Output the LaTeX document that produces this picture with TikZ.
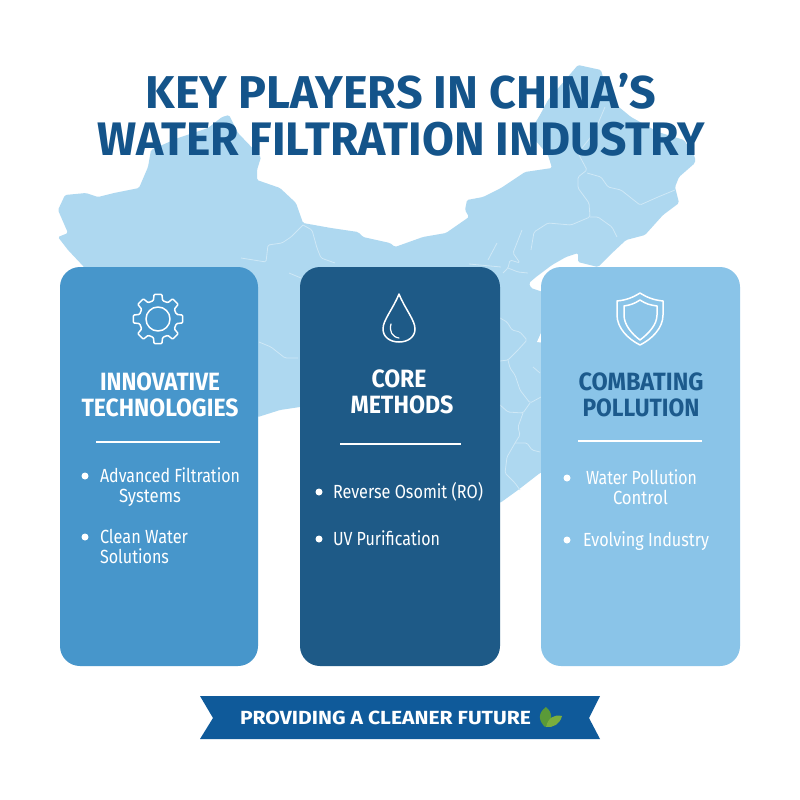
\documentclass[tikz,border=0pt]{standalone}
\usepackage{fontspec}
\usepackage{graphicx}
\setmainfont{Fira Sans}
\definecolor{mapblue}{HTML}{AED8F0}
\definecolor{mapline}{HTML}{CFE8F6}
\definecolor{cardA}{HTML}{4796CB}
\definecolor{cardB}{HTML}{1E5A87}
\definecolor{cardC}{HTML}{8AC4E8}
\definecolor{titleblue}{HTML}{14548A}
\definecolor{headC}{HTML}{1C5A8C}
\definecolor{ribbon}{HTML}{0F5A9A}
\definecolor{leafA}{HTML}{7AAE3E}
\definecolor{leafB}{HTML}{5A9A38}
\newcommand{\fitw}[3]{\resizebox{#1pt}{\height}{\fontsize{#2pt}{#2pt}\selectfont #3}}
\tikzset{
  card/.style={rounded corners=20pt},
  border/.style={draw=mapline,line width=0.8pt,line join=round,rounded corners=1.5pt,fill=none},
  txt/.style={inner sep=0pt,outer sep=0pt,text=white},
  head/.style={txt,font=\fontseries{sb}\selectfont},
  rulew/.style={draw=white,line width=2pt},
  dot/.style={fill=white},
  icon/.style={draw=white,line width=1.5pt,line join=round,fill=none}
}
\begin{document}
\begin{tikzpicture}[x=1pt,y=-1pt]
\useasboundingbox (0,0) rectangle (800,800);
\fill[white] (0,0) rectangle (800,800);
% map
\fill[mapblue,rounded corners=1.5pt] (578,65) -- (601,70) -- (606,88) -- (614,103) -- (631,117) -- (658,132) -- (684,140) -- (695,157) -- (695,163) -- (679,177) -- (675,187) -- (679,203) -- (663,215) -- (645,235) -- (626,240) -- (610,255) -- (598,267) -- (578,262) -- (578,253) -- (566,257) -- (552,265) -- (536,277) -- (529,283) -- (531,288) -- (543,292) -- (620,320) -- (620,440) -- (540,473) -- (518,490) -- (500,503) -- (420,500) -- (330,400) -- (300,407) -- (280,410) -- (258,417) -- (200,400) -- (120,320) -- (84,267) -- (68,250) -- (58,237) -- (68,233) -- (58,210) -- (65,195) -- (86,193) -- (98,197) -- (114,193) -- (139,188) -- (148,167) -- (151,150) -- (178,138) -- (208,128) -- (222,117) -- (229,115) -- (238,133) -- (261,157) -- (257,170) -- (257,180) -- (280,188) -- (296,203) -- (303,223) -- (331,228) -- (358,232) -- (363,237) -- (390,243) -- (395,247) -- (423,237) -- (446,233) -- (469,217) -- (465,210) -- (467,200) -- (483,197) -- (501,188) -- (525,172) -- (552,168) -- (548,155) -- (529,133) -- (540,115) -- (548,100) -- cycle;
\fill[white] (537,342) -- (541,333) -- (546,336) -- (545,343) -- cycle;
% province borders
\draw[border] (303,225) -- (291,237) -- (282,243) -- (268,245) -- (266,262) -- (241,258);
\draw[border] (303,225) -- (312,230) -- (317,248) -- (321,258) -- (335,263);
\draw[border] (605,107) -- (594,133) -- (578,153) -- (587,170) -- (578,177) -- (578,188) -- (589,203) -- (590,217) -- (571,225) -- (548,223) -- (534,232) -- (531,250);
\draw[border] (587,173) -- (601,177) -- (608,187) -- (621,190) -- (640,205) -- (658,197) -- (675,190);
\draw[border] (590,217) -- (598,217) -- (612,227) -- (617,237);
\draw[border] (522,230) -- (513,253) -- (520,263) -- (510,260) -- (508,268) -- (503,273);
\draw[border] (508,268) -- (518,272) -- (528,273);
\draw[border] (497,243) -- (488,260);
\draw[border] (469,264) -- (501,267);
\draw[border] (500,318) -- (507,322) -- (512,330) -- (520,332) -- (527,340) -- (518,350) -- (508,360) -- (500,361);
\draw[border] (508,360) -- (510,368) -- (515,375) -- (520,390) -- (530,403) -- (541,397);
\draw[border] (500,405) -- (508,412) -- (523,413) -- (530,403);
\draw[border] (523,413) -- (518,427) -- (520,435) -- (515,443) -- (507,457) -- (505,473) -- (515,483) -- (520,490);
\draw[border] (515,443) -- (527,443) -- (532,450) -- (540,452);
\draw[border] (533,367) -- (540,373);
\draw[border] (259,342) -- (271,347) -- (285,358) -- (298,358);
\draw[border] (289,273) -- (301,278);
% title
\node[txt,text=titleblue,font=\bfseries,anchor=center] (title1) at (401,91) {\fitw{510}{46}{KEY PLAYERS IN CHINA’S}};
\node[txt,text=titleblue,font=\bfseries,anchor=center] (title2) at (401,139) {\fitw{608}{47}{WATER FILTRATION INDUSTRY}};
% cards
\fill[cardA,card] (60,267) rectangle (258,666);
\fill[cardB,card] (300,267) rectangle (500,666);
\fill[cardC,card] (541,267) rectangle (740,666);
% gear
\draw[icon,rounded corners=1pt,shift={(158,319)}] (-14:19) \foreach \a in {0,45,...,315} { -- (\a-14:19) -- (\a-9:25) -- (\a+9:25) -- (\a+14:19) } -- cycle;
\draw[icon] (158,319) circle (12);
% drop
\draw[icon] (399,294) .. controls (393,309) and (383,320) .. (383,329) .. controls (383,337) and (390,342) .. (399,342) .. controls (408,342) and (415,337) .. (415,329) .. controls (415,320) and (405,309) .. (399,294) -- cycle;
\draw[icon,line width=1.2pt,line cap=round] (391,324) .. controls (389,331) and (392,337) .. (399,338);
% shield
\draw[icon] (640,293) .. controls (632,298) and (626,300) .. (617,301) -- (617,315) .. controls (617,328) and (628,339) .. (640,345) .. controls (652,339) and (663,328) .. (663,315) -- (663,301) .. controls (654,300) and (648,298) .. (640,293) -- cycle;
\draw[icon] (640,300) .. controls (634,304) and (630,305) .. (624,306) -- (624,315) .. controls (624,325) and (632,334) .. (640,340) .. controls (648,334) and (657,325) .. (657,315) -- (657,306) .. controls (650,305) and (646,304) .. (640,300) -- cycle;
% headings
\node[head] (h1a) at (160,382) {\fitw{120}{25}{INNOVATIVE}};
\node[head] (h1b) at (160,408) {\fitw{157}{25}{TECHNOLOGIES}};
\node[head] (h2a) at (399,379) {\fitw{55}{25}{CORE}};
\node[head] (h2b) at (402,405) {\fitw{103}{25}{METHODS}};
\node[head,text=headC] (h3a) at (641,382) {\fitw{125}{25}{COMBATING}};
\node[head,text=headC] (h3b) at (641,408) {\fitw{117}{25}{POLLUTION}};
% rules
\draw[rulew] (96,442) -- (220,442);
\draw[rulew] (340,444) -- (461,444);
\draw[rulew] (578,441) -- (702,441);
% bullets
\fill[dot] (85,476) circle (3.5);
\fill[dot] (85,537) circle (3.5);
\fill[dot] (319,492) circle (3.5);
\fill[dot] (319,539) circle (3.5);
\fill[dot] (567,478) circle (3.5);
\fill[dot] (567,540) circle (3.5);
% bullet texts
\node[txt,anchor=base west] (t1) at (100,482) {\fitw{140}{19}{Advanced Filtration}};
\node[txt,anchor=base west] (t2) at (119,502) {\fitw{62}{19}{Systems}};
\node[txt,anchor=base west] (t3) at (100,543) {\fitw{88}{19}{Clean Water}};
\node[txt,anchor=base west] (t4) at (100,563) {\fitw{69}{19}{Solutions}};
\node[txt,anchor=base west] (t5) at (333,498) {\fitw{150}{19}{Reverse Osomit (RO)}};
\node[txt,anchor=base west] (t6) at (333,545) {\fitw{107}{19}{UV Purification}};
\node[txt,anchor=base west] (t7) at (586,484) {\fitw{111}{19}{Water Pollution}};
\node[txt,anchor=base west] (t8) at (613,504) {\fitw{55}{19}{Control}};
\node[txt,anchor=base west] (t9) at (583,546) {\fitw{126}{19}{Evolving Industry}};
% ribbon
\fill[ribbon] (200,696) -- (600,696) -- (589,718) -- (600,739) -- (200,739) -- (213,718) -- cycle;
\node[head] (rib) at (385.5,718) {\fitw{291}{19}{PROVIDING A CLEANER FUTURE}};
% leaf
\fill[leafB] (545,727) .. controls (538,720) and (538,713) .. (546,707) .. controls (553,713) and (553,720) .. (545,727) -- cycle;
\fill[leafA] (546,727) .. controls (548,718) and (554,714) .. (562,716) .. controls (560,724) and (553,728) .. (546,727) -- cycle;
\end{tikzpicture}
\end{document}
